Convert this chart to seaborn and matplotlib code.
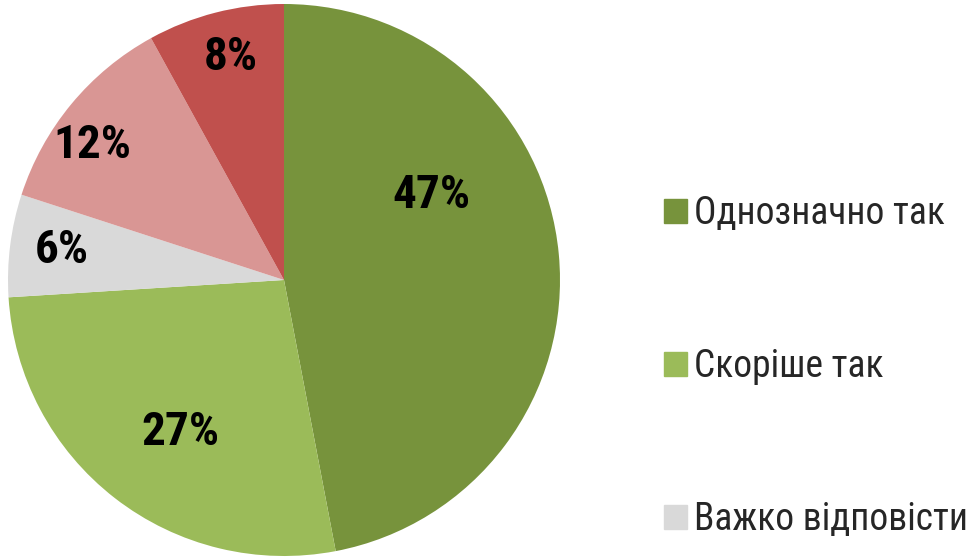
import matplotlib
matplotlib.use("Agg")
import matplotlib.pyplot as plt
import matplotlib.patches as mpatches
import seaborn as sns

# ── data ───────────────────────────────────────────────
categories = ["Однозначно так", "Скоріше так", "Важко відповісти", "Скоріше ні", "Однозначно ні"]
shares = [47, 27, 6, 12, 8]
pct_labels = ["47%", "27%", "6%", "12%", "8%"]
legend_shown = 3  # only the first three legend rows fit in the picture

# ── style ──────────────────────────────────────────────
sns.set_theme(style="white")
plt.rcParams['font.family'] = ['Roboto Condensed', 'Liberation Sans', 'DejaVu Sans']
colors = sns.color_palette(["#77933C", "#9BBB59", "#D9D9D9", "#D99694", "#C0504D"])

# label spots inside the slices (pie radius = 1)
label_xy = [(0.536, 0.308), (-0.377, -0.551), (-0.804, 0.109), (-0.696, 0.489), (-0.192, 0.808)]

fig = plt.figure(figsize=(9.74, 5.6), dpi=100)
ax = fig.add_axes([8 / 974, 4 / 560, 552 / 974, 552 / 560])

wedges, _ = ax.pie(shares, colors=colors, startangle=90, counterclock=False,
                   radius=1, wedgeprops=dict(linewidth=0))
ax.set_xlim(-1, 1)
ax.set_ylim(-1, 1)
ax.set_aspect('equal')
ax.axis('off')

for (x, y), txt in zip(label_xy, pct_labels):
    ax.text(x, y, txt, ha='center', va='center', fontsize=34, fontweight='bold', color='black')

# ── legend ─────────────────────────────────────────────
handles = [mpatches.Patch(color=colors[i], label=categories[i]) for i in range(legend_shown)]
fig.legend(handles=handles, loc='upper left', bbox_to_anchor=(664 / 974, 1 - 195 / 560),
           frameon=False, fontsize=27, handlelength=0.6, handleheight=0.6,
           handletextpad=0.2, labelspacing=3.1, borderaxespad=0, borderpad=0)

fig.savefig('out.png', dpi=100, facecolor='white')
